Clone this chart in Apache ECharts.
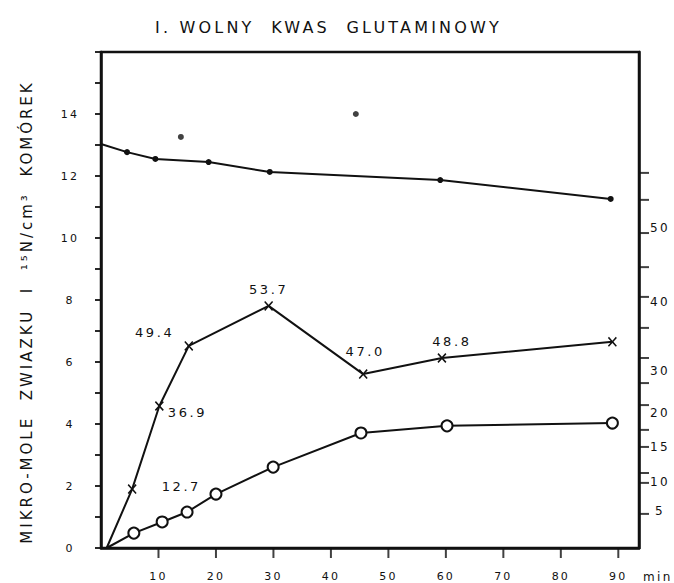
<!DOCTYPE html>
<html>
<head>
<meta charset="utf-8">
<script src="https://cdn.jsdelivr.net/npm/echarts@6/dist/echarts.min.js"></script>
<style>
  html, body { margin: 0; padding: 0; background: #fff; }
  #chart { width: 674px; height: 583px; }
  #chart text { letter-spacing: 0.2em; }
</style>
</head>
<body>
<div id="chart"></div>
<script>
// ---- data ----
const titleText = 'I. WOLNY  KWAS  GLUTAMINOWY';
const yAxisTitle = 'MIKRO-MOLE  ZWIAZKU  I  \u00B9\u2075N/cm\u00B3  KOM\u00D3REK';
const xUnit = 'min';

// upper line with dots (left scale)
const dotTimes  = [-1, 3.6, 8.6, 18, 28.8, 58.9, 89];
const dotValues = [13.03, 12.77, 12.55, 12.45, 12.13, 11.87, 11.26];
// isolated dots
const strayTimes  = [13.1, 44.0];
const strayValues = [13.26, 14.0];
// x-marked line
const crossTimes  = [0, 4.5, 9.3, 14.5, 28.6, 45.3, 59.2, 89.3];
const crossValues = [0, 1.90, 4.58, 6.52, 7.81, 5.61, 6.13, 6.65];
const crossLabels = ['', '12.7', '36.9', '49.4', '53.7', '47.0', '48.8', ''];
// circle-marked line
const circleTimes  = [0, 4.8, 9.8, 14.2, 19.3, 29.4, 44.9, 60.1, 89.3];
const circleValues = [0, 0.48, 0.84, 1.16, 1.74, 2.61, 3.71, 3.94, 4.03];
// bottom tick labels
const xTickValues = [10, 20, 30, 40, 50, 60, 70, 80, 90];
// right-hand (non-linear) scale: labels and where they sit on the left scale
const rightLabels   = ['5', '10', '15', '20', '30', '40', '50'];
const rightLabelPos = [1.19, 2.13, 3.26, 4.35, 5.71, 7.94, 10.32];
const rightTickPos  = [1.10, 2.10, 2.42, 3.26, 3.81, 4.61, 5.32, 6.13, 7.10, 8.10, 9.06, 10.16, 11.23, 12.10];

// ---- styling ----
const INK = '#111';
const FONT = 'DejaVu Sans';
const X_MAX = 94;
const crossLabelStyle = [
  null,
  { position: 'right', distance: 25, offset: [0, -3] },
  { position: 'right', distance: 4, offset: [0, 6] },
  { position: 'left', distance: 10, offset: [0, -13] },
  { position: 'top', distance: 5, offset: [0, 0] },
  { position: 'top', distance: 11, offset: [2, 0] },
  { position: 'top', distance: 5, offset: [10, 0] },
  null
];
const crossPath = 'path://M0,1.2 L1.2,0 L5,3.8 L8.8,0 L10,1.2 L6.2,5 L10,8.8 L8.8,10 L5,6.2 L1.2,10 L0,8.8 L3.8,5 Z';

const dotData = dotTimes.map((t, i) => i === 0
  ? { value: [t, dotValues[i]], symbol: 'none' }
  : [t, dotValues[i]]);
const strayData = strayTimes.map((t, i) => [t, strayValues[i]]);
const crossData = crossTimes.map((t, i) => {
  const item = { value: [t, crossValues[i]] };
  if (i === 0) item.symbol = 'none';
  if (crossLabels[i]) {
    item.label = Object.assign({
      show: true, formatter: crossLabels[i],
      fontSize: 13, color: INK, fontFamily: FONT
    }, crossLabelStyle[i]);
  }
  return item;
});
const circleData = circleTimes.map((t, i) => i === 0
  ? { value: [t, circleValues[i]], symbol: 'none' }
  : [t, circleValues[i]]);
const rightTickData = rightTickPos.map(v => [X_MAX, v]);
const bottomTickData = xTickValues.map(v => [v, 0]);

function nearestLabel(v) {
  let best = 0;
  for (let i = 1; i < rightLabelPos.length; i++) {
    if (Math.abs(rightLabelPos[i] - v) < Math.abs(rightLabelPos[best] - v)) best = i;
  }
  return rightLabels[best];
}

const chart = echarts.init(document.getElementById('chart'), null, { renderer: 'svg' });
chart.setOption({
  animation: false,
  backgroundColor: '#fff',
  textStyle: { fontFamily: FONT, color: INK },
  title: {
    text: titleText,
    left: 150, top: 14,
    textStyle: { fontSize: 16, fontWeight: 'normal', color: INK, fontFamily: FONT }
  },
  grid: {
    left: 101, right: 35, top: 52, bottom: 35,
    show: true, borderColor: INK, borderWidth: 2.5, backgroundColor: 'transparent'
  },
  xAxis: [
    { type: 'value', min: -1, max: X_MAX, show: false, position: 'top' },
    {
      type: 'value', min: 0, max: 93.6, position: 'bottom',
      axisLine: { show: true, onZero: false, lineStyle: { color: INK, width: 2.5 } },
      axisTick: { show: false },
      axisLabel: {
        fontSize: 11, margin: 23, color: INK, fontFamily: FONT,
        customValues: xTickValues
      },
      splitLine: { show: false }
    }
  ],
  yAxis: [
    {
      type: 'value', min: 0, max: 16, interval: 1, position: 'left',
      axisLine: { show: true, onZero: false, lineStyle: { color: INK, width: 2.5 } },
      axisTick: { show: true, inside: false, length: 6, lineStyle: { color: INK, width: 1.8 } },
      axisLabel: {
        fontSize: 11, margin: 31, align: 'center', color: INK, fontFamily: FONT,
        formatter: v => (v % 2 === 0 && v < 16 ? String(v) : '')
      },
      splitLine: { show: false }
    },
    {
      type: 'value', min: 0, max: 16, position: 'right',
      axisLine: { show: true, onZero: false, lineStyle: { color: INK, width: 2.5 } },
      axisTick: { show: false },
      axisLabel: {
        fontSize: 12, margin: 21, align: 'center', color: INK, fontFamily: FONT,
        customValues: rightLabelPos,
        formatter: v => nearestLabel(v)
      },
      splitLine: { show: false }
    }
  ],
  graphic: [
    {
      type: 'text', x: 27, y: 312, rotation: Math.PI / 2,
      style: { text: yAxisTitle, fontSize: 15, fontFamily: FONT, fill: INK, align: 'center', verticalAlign: 'middle' }
    },
    {
      type: 'text', x: 643, y: 577,
      style: { text: xUnit, fontSize: 12, fontFamily: FONT, fill: INK, align: 'left', verticalAlign: 'middle' }
    }
  ],
  series: [
    {
      type: 'line', xAxisIndex: 0, yAxisIndex: 0, data: dotData,
      symbol: 'circle', symbolSize: 6,
      itemStyle: { color: INK }, lineStyle: { color: INK, width: 2 }
    },
    {
      type: 'scatter', xAxisIndex: 0, yAxisIndex: 0, data: strayData,
      symbol: 'circle', symbolSize: 6, itemStyle: { color: INK }
    },
    {
      type: 'line', xAxisIndex: 0, yAxisIndex: 0, data: crossData,
      symbol: crossPath, symbolSize: [9, 10],
      itemStyle: { color: INK }, lineStyle: { color: INK, width: 2 }
    },
    {
      type: 'line', xAxisIndex: 0, yAxisIndex: 0, data: circleData,
      symbol: 'emptyCircle', symbolSize: 11,
      itemStyle: { color: INK, borderWidth: 2.2 },
      lineStyle: { color: INK, width: 2 }
    },
    {
      // tick marks of the right-hand scale
      type: 'scatter', xAxisIndex: 0, yAxisIndex: 0, data: rightTickData,
      symbol: 'rect', symbolSize: [10, 2], symbolOffset: [5, 0], clip: false,
      itemStyle: { color: INK }, silent: true, z: 10
    },
    {
      // tick marks of the time axis
      type: 'scatter', xAxisIndex: 1, yAxisIndex: 0, data: bottomTickData,
      symbol: 'rect', symbolSize: [2, 10], symbolOffset: [0, 5], clip: false,
      itemStyle: { color: INK }, silent: true, z: 10
    }
  ]
});
</script>
</body>
</html>
